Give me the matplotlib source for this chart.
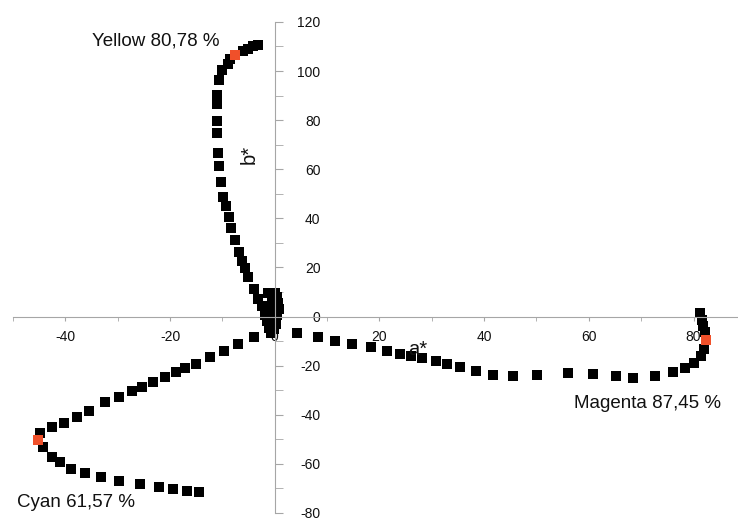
import numpy as np
import matplotlib.pyplot as plt
from matplotlib.ticker import MultipleLocator

plt.rcParams['font.family'] = ['Liberation Sans', 'DejaVu Sans']
plt.rcParams['axes.unicode_minus'] = False

# a*, b* of the yellow ramp, from paper white up to full ink
yellow_a = [-0.8, -1.0, -1.5, -1.9, -2.5, -3.2, -4.0, -5.2, -5.7, -6.3, -6.9, -7.6,
            -8.4, -8.8, -9.4, -9.8, -10.2, -10.7, -10.9, -11.1, -11.1, -11.1, -11.0,
            -10.7, -10.0, -9.0, -8.6, -7.5, -6.1, -5.2, -4.2, -3.2]
yellow_b = [-6.5, -4.5, -2.0, 0.6, 4.3, 7.1, 11.2, 16.0, 19.7, 22.5, 26.5, 31.0,
            35.9, 40.4, 45.1, 48.9, 54.9, 61.4, 66.7, 74.8, 79.7, 86.6, 90.3,
            96.4, 100.4, 103.0, 104.9, 106.5, 108.0, 109.0, 110.0, 110.6]

# magenta ramp
magenta_a = [0.2, 4.3, 8.3, 11.6, 14.8, 18.3, 21.4, 23.9, 26.0, 28.1, 30.8, 32.9,
             35.4, 38.4, 41.7, 45.5, 50.1, 56.0, 60.8, 65.2, 68.5, 72.7, 76.0,
             78.4, 80.0, 81.5, 82.1, 82.4, 82.2, 81.9, 81.6, 81.3]
magenta_b = [-3.0, -6.7, -8.3, -9.8, -11.1, -12.4, -14.0, -15.2, -16.0, -16.8, -18.1, -19.3,
             -20.5, -22.1, -23.7, -24.1, -23.7, -22.9, -23.3, -24.1, -24.9, -24.1, -22.5,
             -20.9, -18.9, -16.0, -13.2, -9.5, -6.3, -3.9, -1.4, 1.4]

# cyan ramp
cyan_a = [-0.3, -4.0, -7.1, -9.7, -12.4, -15.1, -17.1, -18.8, -20.9, -23.3, -25.3, -27.3,
          -29.8, -32.4, -35.4, -37.7, -40.2, -42.6, -44.8, -45.3, -44.2, -42.5, -41.0,
          -39.0, -36.2, -33.1, -29.8, -25.7, -22.2, -19.4, -16.7, -14.4]
cyan_b = [-3.5, -8.3, -11.0, -14.0, -16.6, -19.2, -20.9, -22.6, -24.6, -26.7, -28.6, -30.3,
          -32.6, -34.8, -38.3, -41.0, -43.3, -45.0, -47.4, -50.2, -53.1, -57.0, -59.1,
          -61.9, -63.6, -65.3, -66.9, -68.3, -69.6, -70.2, -70.9, -71.6]

# other near-neutral patches around paper white
neutral_a = [-1.2, 0.0, 0.5, -0.5, 0.6, -0.8, 0.8, -0.3, 0.5, -0.7, 0.2, -0.6, -0.2]
neutral_b = [9.5, 9.5, 8.0, 7.0, 5.5, 4.5, 3.0, 2.0, 0.5, -1.0, -2.0, -3.5, -5.0]

# patches at the stated ink coverage
names = ["Yellow 80,78 %", "Magenta 87,45 %", "Cyan 61,57 %"]
mark_a = [-7.5, 82.4, -45.3]
mark_b = [106.5, -9.5, -50.2]
label_a = [-22.8, 71.3, -37.9]
label_b = [112.2, -35.5, -75.7]

fig = plt.figure(figsize=(7.38, 5.2), dpi=100)
ax = fig.add_axes([0.0176, 0.0135, 0.9824, 0.9443])

ms = 7
ax.plot(neutral_a, neutral_b, 's', color='black', ms=ms, mew=0)
ax.plot(yellow_a, yellow_b, 's', color='black', ms=ms, mew=0)
ax.plot(magenta_a, magenta_b, 's', color='black', ms=ms, mew=0)
ax.plot(cyan_a, cyan_b, 's', color='black', ms=ms, mew=0)
ax.plot(mark_a, mark_b, 's', color='#f0502a', ms=ms, mew=0, zorder=3)

for name, x, y in zip(names, label_a, label_b):
    ax.text(x, y, name, ha='center', va='center', fontsize=13.5, color='#111111')

ax.text(27.3, -13.6, "a*", ha='center', va='center', fontsize=14.5, color='#111111')
ax.text(-4.8, 66, "b*", ha='center', va='center', fontsize=14.5, rotation=90, color='#111111')

ax.set_xlim(-50, 88.5)
ax.set_ylim(-80, 120)

grey = '#a6a6a6'
ax.spines['top'].set_visible(False)
ax.spines['left'].set_visible(False)
ax.spines['bottom'].set_position(('data', 0))
ax.spines['right'].set_position(('data', 0))
ax.spines['bottom'].set_color(grey)
ax.spines['right'].set_color(grey)

ax.xaxis.set_major_locator(MultipleLocator(20))
ax.xaxis.set_minor_locator(MultipleLocator(10))
ax.yaxis.set_major_locator(MultipleLocator(20))
ax.yaxis.set_minor_locator(MultipleLocator(10))
ax.yaxis.set_ticks_position('right')
ax.xaxis.set_ticks_position('bottom')

ax.tick_params(axis='x', which='both', direction='out', length=3, color=grey,
               labelsize=10, pad=7, labelcolor='#111111')
ax.tick_params(axis='y', which='both', direction='out', length=6, color=grey,
               labelsize=10, pad=27, labelcolor='#111111')
for lab in ax.get_yticklabels():
    lab.set_horizontalalignment('right')

fig.savefig("out.png", dpi=100)
